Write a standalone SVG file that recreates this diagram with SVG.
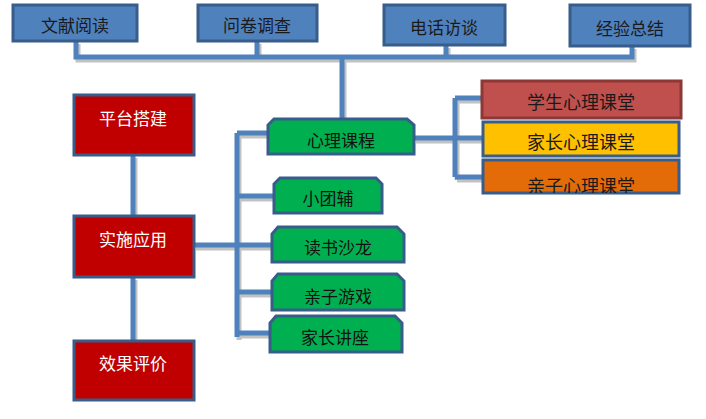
<svg xmlns="http://www.w3.org/2000/svg" width="706" height="419" viewBox="0 0 706 419">
<style>
.t{font-family:"Noto Sans CJK SC","Liberation Sans",sans-serif;font-size:17px;text-anchor:middle;dominant-baseline:central}
.top rect{fill:#4f81bd;stroke:#385d8a;stroke-width:3}
.top text{fill:#1a1a1a}
.red rect{fill:#c00000;stroke:#385d8a;stroke-width:3}
.red text{fill:#ffffff}
.grn path{fill:#00b050;stroke:#385d8a;stroke-width:3}
.grn text{fill:#111}
.ln{fill:none;stroke:#4f81bd;stroke-width:5}
.sh{fill:none;stroke:#9a9a9a;stroke-width:5;opacity:0.6}
</style>
<defs>
<clipPath id="cp"><rect x="482" y="159" width="197" height="34"/></clipPath>
</defs>
<g id="connectors">
<g transform="translate(2,3)">
<path class="sh" d="M76 41V57H632V46M257 41V57M446 45V57M342 57V118"/>
<path class="sh" d="M133 155V215M133 277V340M194 245H271M237 133V337M237 133H267M237 196H273M237 292H271M237 333H269"/>
<path class="sh" d="M414 138H455M455 98V177M455 98H481M455 138H482M455 177H482"/>
</g>
<path class="ln" d="M76 41V57H632V46M257 41V57M446 45V57M342 57V118"/>
<path class="ln" d="M133 155V215M133 277V340M194 245H271M237 133V337M237 133H267M237 196H273M237 292H271M237 333H269"/>
<path class="ln" d="M414 138H455M455 98V177M455 98H481M455 138H482M455 177H482"/>
</g>
<g id="n1" class="top"><rect x="13" y="5" width="124" height="36"/><text class="t" x="75" y="24">文献阅读</text></g>
<g id="n2" class="top"><rect x="198" y="5" width="119" height="36"/><text class="t" x="257" y="24">问卷调查</text></g>
<g id="n3" class="top"><rect x="384" y="5" width="121" height="40"/><text class="t" x="444" y="26">电话访谈</text></g>
<g id="n4" class="top"><rect x="570" y="5" width="120" height="41"/><text class="t" x="630" y="27">经验总结</text></g>
<g id="n5" class="red"><rect x="74" y="95" width="120" height="60"/><text class="t" x="133" y="117">平台搭建</text></g>
<g id="n6" class="red"><rect x="74" y="216" width="120" height="61"/><text class="t" x="133" y="238">实施应用</text></g>
<g id="n7" class="red"><rect x="74" y="341" width="120" height="59"/><text class="t" x="133" y="362">效果评价</text></g>
<g id="n8" class="grn"><path d="M274 119H407L414 125V154H268V125Z"/><text class="t" x="341" y="139">心理课程</text></g>
<g id="n9" class="grn"><path d="M280 178H376L382 184V213H274V184Z"/><text class="t" x="328" y="197">小团辅</text></g>
<g id="n10" class="grn"><path d="M278 227H397L404 234V262H272V234Z"/><text class="t" x="338" y="246">读书沙龙</text></g>
<g id="n11" class="grn"><path d="M278 274H397L404 281V310H272V281Z"/><text class="t" x="338" y="295">亲子游戏</text></g>
<g id="n12" class="grn"><path d="M276 316H395L402 323V352H270V323Z"/><text class="t" x="335" y="336">家长讲座</text></g>
<g id="n13"><rect x="482" y="81" width="199" height="37" fill="#c0504d" stroke="#8c3836" stroke-width="3"/><text class="t" x="581" y="101" fill="#1a1a1a" style="font-size:18px">学生心理课堂</text></g>
<g id="n14"><rect x="483" y="122" width="196" height="34" fill="#ffc000" stroke="#385d8a" stroke-width="3"/><text class="t" x="581" y="141" fill="#1a1a1a" style="font-size:18px">家长心理课堂</text></g>
<g id="n15"><rect x="483" y="160" width="196" height="33" fill="#e36c09" stroke="#385d8a" stroke-width="3"/><text class="t" x="581" y="185" fill="#1a1a1a" style="font-size:18px" clip-path="url(#cp)">亲子心理课堂</text></g>
</svg>
